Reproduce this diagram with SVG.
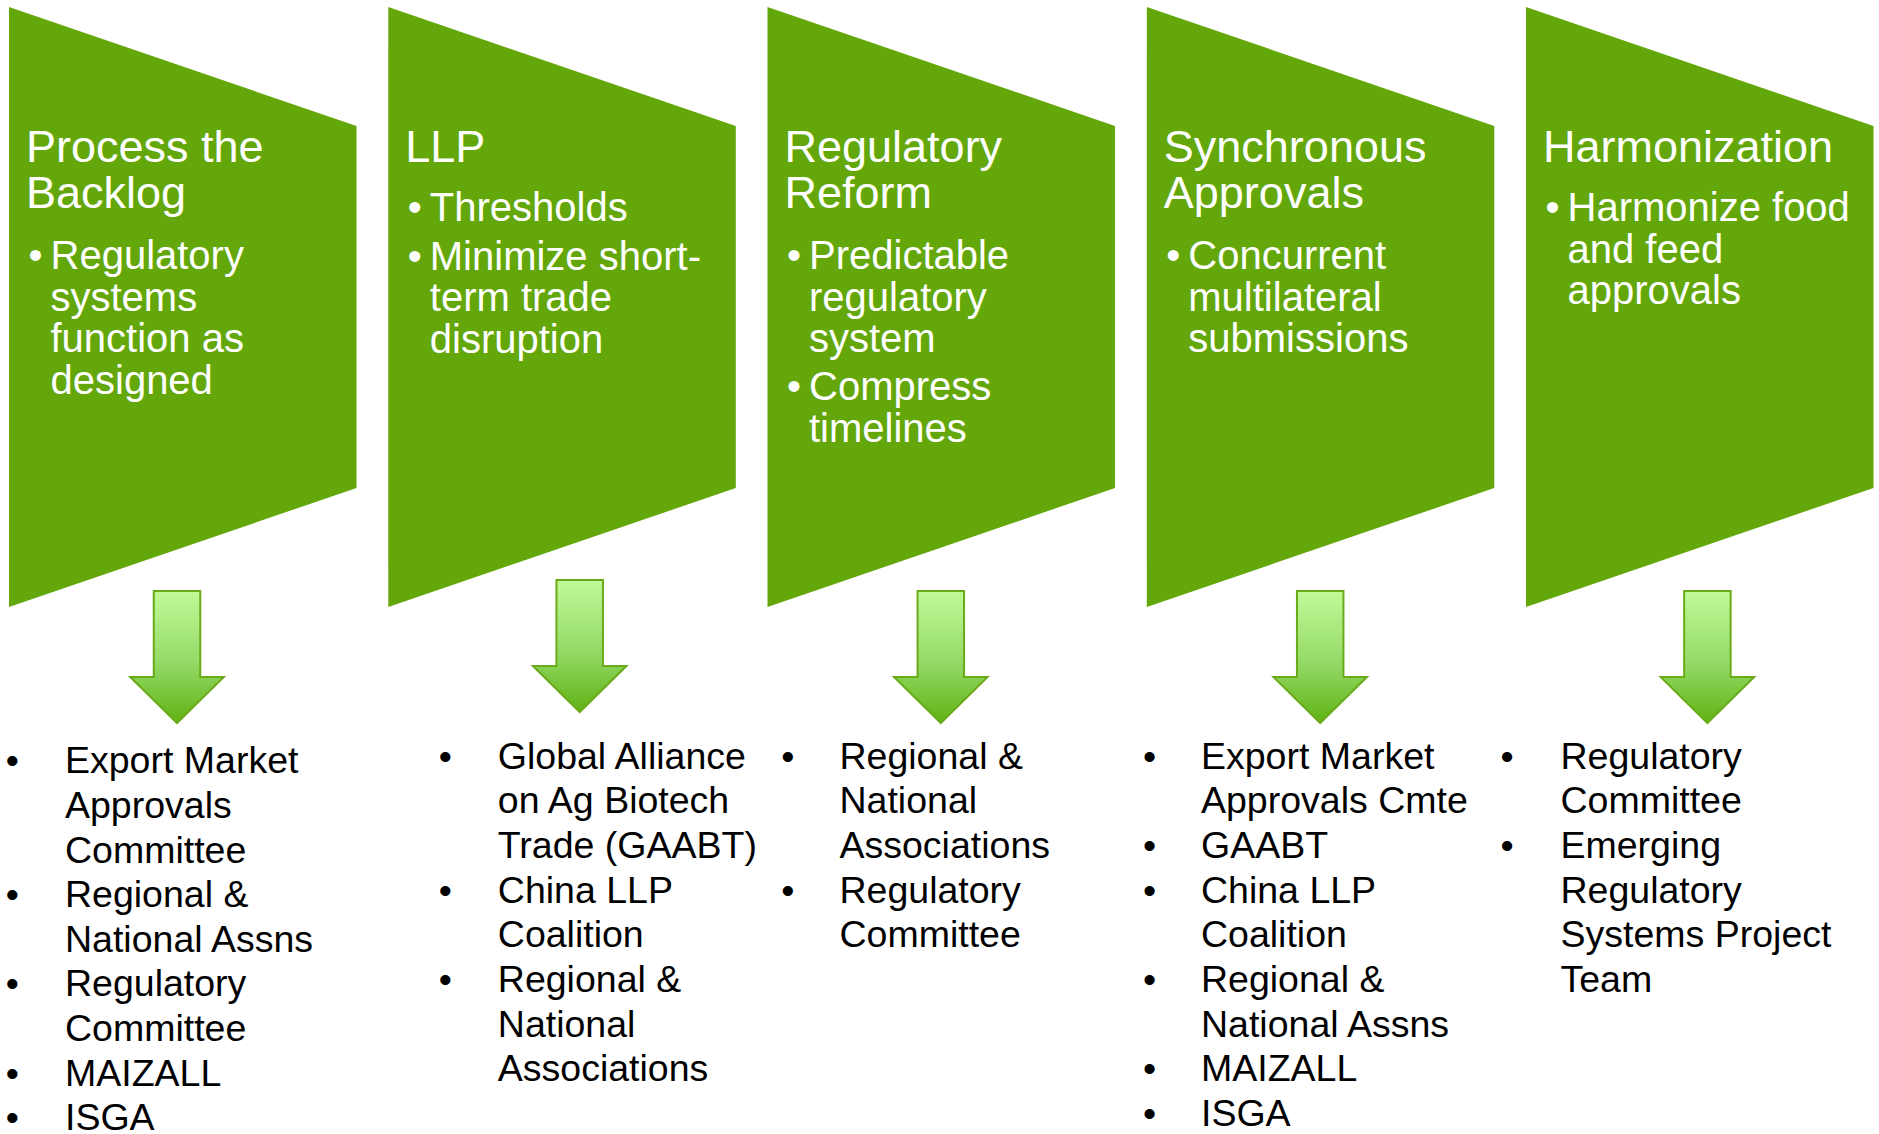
<svg xmlns="http://www.w3.org/2000/svg" width="1879" height="1134" viewBox="0 0 1879 1134">
  <defs>
    <linearGradient id="arrowFill" x1="0" y1="0" x2="0" y2="1">
      <stop offset="0" stop-color="#c0fa98"/>
      <stop offset="0.55" stop-color="#94d966"/>
      <stop offset="1" stop-color="#5fb214"/>
    </linearGradient>
    <!-- down arrow, centred on x=0, top at y=0 -->
    <path id="downArrow" d="M -23.25 0 H 23.25 V 86 H 46.75 L 0 132 L -46.75 86 H -23.25 Z"/>
  </defs>
  <style>
    .stage { fill: #63a70b; }
    .title { font-family: "Liberation Sans", Arial, sans-serif; font-size: 45px; fill: #ffffff; }
    .body { font-family: "Liberation Sans", Arial, sans-serif; font-size: 40px; fill: #ffffff; }
    .list { font-family: "Liberation Sans", Arial, sans-serif; font-size: 37.5px; fill: #000000; }
    .dot { text-anchor: middle; }
    .arrow { fill: url(#arrowFill); stroke: #6aab1a; stroke-width: 2; stroke-linejoin: miter; }
  </style>
  <rect width="1879" height="1134" fill="#ffffff"/>

  <!-- stage 1 -->
  <g id="stage-backlog">
    <polygon class="stage" points="9,7 356.5,126 356.5,488 9,607"/>
    <text class="title" x="26" y="162">Process the</text>
    <text class="title" x="26" y="207.5">Backlog</text>
    <text class="body" x="28.5" y="269">•</text>
    <text class="body" x="50.5" y="269">Regulatory</text>
    <text class="body" x="50.5" y="310.5">systems</text>
    <text class="body" x="50.5" y="352">function as</text>
    <text class="body" x="50.5" y="393.5">designed</text>
  </g>

  <!-- stage 2 -->
  <g id="stage-llp">
    <polygon class="stage" points="388.3,7 735.8,126 735.8,488 388.3,607"/>
    <text class="title" x="405.3" y="162">LLP</text>
    <text class="body" x="407.8" y="221">•</text>
    <text class="body" x="429.8" y="221">Thresholds</text>
    <text class="body" x="407.8" y="269.5">•</text>
    <text class="body" x="429.8" y="269.5">Minimize short-</text>
    <text class="body" x="429.8" y="311">term trade</text>
    <text class="body" x="429.8" y="352.5">disruption</text>
  </g>

  <!-- stage 3 -->
  <g id="stage-reform">
    <polygon class="stage" points="767.5,7 1115,126 1115,488 767.5,607"/>
    <text class="title" x="784.5" y="162">Regulatory</text>
    <text class="title" x="784.5" y="207.5">Reform</text>
    <text class="body" x="787" y="269">•</text>
    <text class="body" x="809" y="269">Predictable</text>
    <text class="body" x="809" y="310.5">regulatory</text>
    <text class="body" x="809" y="352">system</text>
    <text class="body" x="787" y="400">•</text>
    <text class="body" x="809" y="400">Compress</text>
    <text class="body" x="809" y="441.5">timelines</text>
  </g>

  <!-- stage 4 -->
  <g id="stage-synchronous">
    <polygon class="stage" points="1146.8,7 1494.3,126 1494.3,488 1146.8,607"/>
    <text class="title" x="1163.8" y="162">Synchronous</text>
    <text class="title" x="1163.8" y="207.5">Approvals</text>
    <text class="body" x="1166.3" y="269">•</text>
    <text class="body" x="1188.3" y="269">Concurrent</text>
    <text class="body" x="1188.3" y="310.5">multilateral</text>
    <text class="body" x="1188.3" y="352">submissions</text>
  </g>

  <!-- stage 5 -->
  <g id="stage-harmonization">
    <polygon class="stage" points="1526,7 1873.5,126 1873.5,488 1526,607"/>
    <text class="title" x="1543" y="162">Harmonization</text>
    <text class="body" x="1545.5" y="221">•</text>
    <text class="body" x="1567.5" y="221">Harmonize food</text>
    <text class="body" x="1567.5" y="262.5">and feed</text>
    <text class="body" x="1567.5" y="304">approvals</text>
  </g>

  <!-- arrows from each stage down to its groups -->
  <g id="connectors">
    <use href="#downArrow" class="arrow" x="177" y="591"/>
    <use href="#downArrow" class="arrow" x="579.7" y="580"/>
    <use href="#downArrow" class="arrow" x="940.8" y="591"/>
    <use href="#downArrow" class="arrow" x="1320.2" y="591"/>
    <use href="#downArrow" class="arrow" x="1707.4" y="591"/>
  </g>

  <!-- groups involved in each stage -->
  <g id="groups-backlog">
    <text class="list dot" x="12.2" y="773.3">•</text>
    <text class="list" x="65" y="773.3">Export Market</text>
    <text class="list" x="65" y="817.9">Approvals</text>
    <text class="list" x="65" y="862.5">Committee</text>
    <text class="list dot" x="12.2" y="907.1">•</text>
    <text class="list" x="65" y="907.1">Regional &amp;</text>
    <text class="list" x="65" y="951.7">National Assns</text>
    <text class="list dot" x="12.2" y="996.3">•</text>
    <text class="list" x="65" y="996.3">Regulatory</text>
    <text class="list" x="65" y="1040.9">Committee</text>
    <text class="list dot" x="12.2" y="1085.5">•</text>
    <text class="list" x="65" y="1085.5">MAIZALL</text>
    <text class="list dot" x="12.2" y="1129.5">•</text>
    <text class="list" x="65" y="1129.5">ISGA</text>
  </g>

  <g id="groups-llp">
    <text class="list dot" x="445.3" y="768.5">•</text>
    <text class="list" x="497.8" y="768.5">Global Alliance</text>
    <text class="list" x="497.8" y="813.2">on Ag Biotech</text>
    <text class="list" x="497.8" y="857.9">Trade (GAABT)</text>
    <text class="list dot" x="445.3" y="902.6">•</text>
    <text class="list" x="497.8" y="902.6">China LLP</text>
    <text class="list" x="497.8" y="947.3">Coalition</text>
    <text class="list dot" x="445.3" y="992">•</text>
    <text class="list" x="497.8" y="992">Regional &amp;</text>
    <text class="list" x="497.8" y="1036.7">National</text>
    <text class="list" x="497.8" y="1081.4">Associations</text>
  </g>

  <g id="groups-reform">
    <text class="list dot" x="787.8" y="768.5">•</text>
    <text class="list" x="839.5" y="768.5">Regional &amp;</text>
    <text class="list" x="839.5" y="813.2">National</text>
    <text class="list" x="839.5" y="857.9">Associations</text>
    <text class="list dot" x="787.8" y="902.6">•</text>
    <text class="list" x="839.5" y="902.6">Regulatory</text>
    <text class="list" x="839.5" y="947.3">Committee</text>
  </g>

  <g id="groups-synchronous">
    <text class="list dot" x="1149.5" y="768.5">•</text>
    <text class="list" x="1201" y="768.5">Export Market</text>
    <text class="list" x="1201" y="813.2">Approvals Cmte</text>
    <text class="list dot" x="1149.5" y="857.9">•</text>
    <text class="list" x="1201" y="857.9">GAABT</text>
    <text class="list dot" x="1149.5" y="902.6">•</text>
    <text class="list" x="1201" y="902.6">China LLP</text>
    <text class="list" x="1201" y="947.3">Coalition</text>
    <text class="list dot" x="1149.5" y="992">•</text>
    <text class="list" x="1201" y="992">Regional &amp;</text>
    <text class="list" x="1201" y="1036.7">National Assns</text>
    <text class="list dot" x="1149.5" y="1081.4">•</text>
    <text class="list" x="1201" y="1081.4">MAIZALL</text>
    <text class="list dot" x="1149.5" y="1126.1">•</text>
    <text class="list" x="1201" y="1126.1">ISGA</text>
  </g>

  <g id="groups-harmonization">
    <text class="list dot" x="1507" y="768.5">•</text>
    <text class="list" x="1560.5" y="768.5">Regulatory</text>
    <text class="list" x="1560.5" y="813.2">Committee</text>
    <text class="list dot" x="1507" y="857.9">•</text>
    <text class="list" x="1560.5" y="857.9">Emerging</text>
    <text class="list" x="1560.5" y="902.6">Regulatory</text>
    <text class="list" x="1560.5" y="947.3">Systems Project</text>
    <text class="list" x="1560.5" y="992">Team</text>
  </g>
</svg>
